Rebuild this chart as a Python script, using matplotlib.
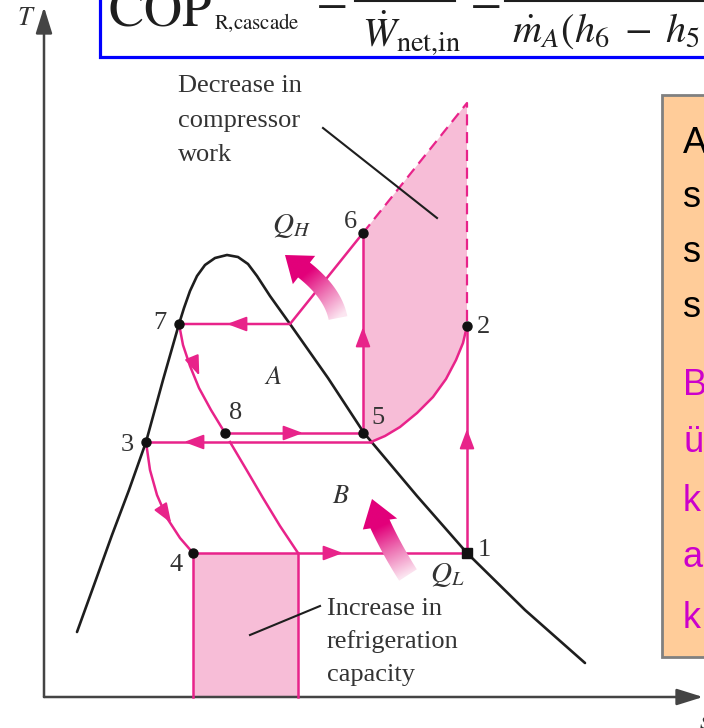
import numpy as np
import matplotlib.pyplot as plt
from matplotlib.patches import Polygon, Rectangle
from matplotlib.colors import LinearSegmentedColormap

plt.rcParams['mathtext.fontset'] = 'stix'
plt.rcParams['font.family'] = ['Liberation Serif', 'DejaVu Serif']

# --- T-s diagram values (s, T in diagram units, origin at the axes corner) ---
# saturation dome
dome_s = [33, 50, 68, 85, 102, 119, 135, 140, 146, 153, 161, 171, 183, 194, 204, 213,
          226, 246, 284, 320, 373, 423, 481, 541]
dome_T = [65, 112, 162, 207, 255, 317, 373, 389, 406, 421, 432, 439, 442, 440, 433, 421,
          401, 373, 319, 264, 201, 144, 87, 34]

# state points 1..8
state_names = ['1', '2', '3', '4', '5', '6', '7', '8']
state_s = [423, 423, 102, 149, 319, 319, 135, 181]
state_T = [144, 371, 255, 144, 264, 464, 373, 264]
name_s = [440, 439, 83, 132, 334, 306, 116, 192]
name_T = [147, 370, 252, 132, 279, 475, 374, 284]

# lower cycle B: 2 -> saturated vapour line (desuperheating curve)
curve_23_s = [423, 419, 412, 402, 389, 373, 356, 341, 327]
curve_23_T = [371, 354, 337, 318, 300, 284, 270, 261, 255]
# throttling 3 -> 4
curve_34_s = [102, 106, 113, 123, 136, 149]
curve_34_T = [255, 227, 202, 179, 159, 144]
# upper cycle A: throttling 7 -> 8
curve_78_s = [135, 139, 146, 155, 167, 181]
curve_78_T = [373, 352, 331, 309, 287, 264]
# single-stage throttling line (ends at right side of capacity gain)
curve_ext_s = [186, 202, 219, 236, 254]
curve_ext_T = [255, 228, 199, 171, 144]

knee_A = (246, 373)       # 6-7 line meets the dome
knee_B = (327, 255)       # 2-3 line meets the dome
single_stage_top = (423, 594)
gain_s = (149, 254)       # increase in refrigeration capacity

PINK = '#E8238A'
PINK_FILL = '#F7BDD7'
INK = '#1e1e1e'
TXT = '#333333'

fig = plt.figure(figsize=(7.04, 7.28), dpi=100)
ax = fig.add_axes([0, 0, 1, 1])
ax.axis('off')


def line_arrow(x, y, dx, dy):
    n = np.hypot(dx, dy)
    ax.annotate('', xy=(x + 6 * dx / n, y + 6 * dy / n), xytext=(x - 6 * dx / n, y - 6 * dy / n),
                arrowprops=dict(arrowstyle='-|>,head_length=0.8,head_width=0.3', color=PINK,
                                lw=1.4, shrinkA=0, shrinkB=0, mutation_scale=15), zorder=5)


def heat_arrow(base, ctrl, neck, tip, wb, wh):
    base, ctrl, neck, tip = map(np.asarray, (base, ctrl, neck, tip))
    t = np.linspace(0, 1, 40)[:, None]
    P = (1 - t) ** 2 * base + 2 * t * (1 - t) * ctrl + t ** 2 * neck
    dP = 2 * (1 - t) * (ctrl - base) + 2 * t * (neck - ctrl)
    nrm = np.column_stack([-dP[:, 1], dP[:, 0]])
    nrm /= np.linalg.norm(nrm, axis=1)[:, None]
    left, right = P + nrm * wb / 2, P - nrm * wb / 2
    d = (tip - neck) / np.linalg.norm(tip - neck)
    nh = np.array([-d[1], d[0]])
    verts = np.vstack([left, [neck + nh * wh / 2, tip, neck - nh * wh / 2], right[::-1]])
    poly = Polygon(verts, closed=True, fc='none', ec='none')
    ax.add_patch(poly)
    x0, y0 = verts.min(axis=0) - 2
    x1, y1 = verts.max(axis=0) + 2
    X, Y = np.meshgrid(np.linspace(x0, x1, 120), np.linspace(y0, y1, 120))
    u = tip - base
    proj = ((X - base[0]) * u[0] + (Y - base[1]) * u[1]) / (u @ u)
    cmap = LinearSegmentedColormap.from_list('heat', ['#FCE6F1', '#EE78B6', '#E2007A', '#E2007A'])
    im = ax.imshow(np.clip(proj, 0, 1), extent=[x0, x1, y0, y1], origin='lower', cmap=cmap,
                   vmin=0, vmax=1, aspect='auto', interpolation='bilinear', zorder=4)
    im.set_clip_path(poly)


# shaded areas
upper = list(zip([state_s[4], state_s[5], single_stage_top[0], state_s[1]],
                 [state_T[4], state_T[5], single_stage_top[1], state_T[1]])) + \
    list(zip(curve_23_s, curve_23_T))
ax.add_patch(Polygon(upper, closed=True, fc=PINK_FILL, ec='none', zorder=1))
ax.add_patch(Rectangle((gain_s[0], 0), gain_s[1] - gain_s[0], state_T[3], fc=PINK_FILL,
                       ec='none', zorder=1))

# dome
ax.plot(dome_s, dome_T, color=INK, lw=1.9, zorder=3, solid_capstyle='round',
        solid_joinstyle='round')

kw = dict(color=PINK, lw=1.8, zorder=4)
# cycle B
ax.plot([state_s[3], state_s[0]], [state_T[3], state_T[0]], **kw)
ax.plot([state_s[0], state_s[1]], [state_T[0], state_T[1]], **kw)
ax.plot(curve_23_s, curve_23_T, **kw)
ax.plot([knee_B[0], state_s[2]], [knee_B[1], state_T[2]], **kw)
ax.plot(curve_34_s, curve_34_T, **kw)
# cycle A
ax.plot([state_s[4], state_s[5]], [state_T[4], state_T[5]], **kw)
ax.plot([state_s[5], knee_A[0], state_s[6]], [state_T[5], knee_A[1], state_T[6]], **kw)
ax.plot(curve_78_s, curve_78_T, **kw)
ax.plot([state_s[7], state_s[4]], [state_T[7], state_T[4]], **kw)
# single stage comparison
ax.plot(curve_ext_s, curve_ext_T, **kw)
ax.plot([gain_s[0], gain_s[0]], [0, state_T[3]], **kw)
ax.plot([gain_s[1], gain_s[1]], [0, state_T[3]], **kw)
ax.plot([state_s[5], single_stage_top[0], single_stage_top[0]],
        [state_T[5], single_stage_top[1], state_T[1]], color=PINK, lw=1.6, ls=(0, (5, 3)), zorder=4)

# flow direction arrows
line_arrow(423, 262, 0, 1)
line_arrow(319, 364, 0, 1)
line_arrow(189, 373, -1, 0)
line_arrow(146, 255, -1, 0)
line_arrow(253, 264, 1, 0)
line_arrow(293, 144, 1, 0)
line_arrow(153, 327, 9, -22)
line_arrow(124, 179, 12, -19)

# heat flows
heat_arrow((294, 379), (289, 404), (260, 427), (241, 442), 19, 36)
heat_arrow((364, 122), (348, 147), (336, 173), (328, 198), 21, 36)

# state points
for i, nm in enumerate(state_names):
    ax.plot(state_s[i], state_T[i], 's' if nm == '1' else 'o', color='#111111',
            ms=6.5, zorder=6)
    ax.text(name_s[i], name_T[i], nm, fontsize=19, color=TXT, ha='center', va='center')

ax.text(229, 319, '$A$', fontsize=19, color=TXT, ha='center', va='center')
ax.text(297, 200, '$B$', fontsize=19, color=TXT, ha='center', va='center')
ax.text(228, 464, '$Q_H$', fontsize=21, color=TXT, ha='left', va='baseline')
ax.text(386, 115, '$Q_L$', fontsize=21, color=TXT, ha='left', va='baseline')

# annotations
for txt, T in zip(['Decrease in', 'compressor', 'work'], [605, 570, 536]):
    ax.text(134, T, txt, fontsize=19, color=TXT, va='baseline')
ax.plot([279, 393], [569, 479], color=INK, lw=1.5, zorder=5)
for txt, T in zip(['Increase in', 'refrigeration', 'capacity'], [82, 49, 16]):
    ax.text(283, T, txt, fontsize=19, color=TXT, va='baseline')
ax.plot([206, 276], [62, 91], color=INK, lw=1.5, zorder=5)

# axes of the diagram
axkw = dict(arrowstyle='-|>,head_length=0.8,head_width=0.25', color='#444444', lw=1.8,
            shrinkA=0, shrinkB=0, mutation_scale=20)
ax.annotate('', xy=(0, 690), xytext=(0, 0), arrowprops=axkw)
ax.annotate('', xy=(659, 0), xytext=(0, 0), arrowprops=axkw)
ax.text(-18, 678, '$T$', fontsize=19, color=TXT, ha='center', va='center')
ax.text(661, -25, '$s$', fontsize=18, color=TXT, ha='center', va='center')

# formula box (cropped at the top)
ax.add_patch(Rectangle((56, 640), 720, 120, fc='white', ec='#0000FF', lw=2.3, zorder=2))
ax.text(64, 671, r'$\mathrm{COP}$', fontsize=38, color=INK, va='baseline', zorder=3)
ax.text(170, 668, r'$\mathrm{R{,}cascade}$', fontsize=15, color=INK, va='baseline', zorder=3)
ax.text(284, 686, '$=$', fontsize=32, color=INK, ha='center', va='baseline', zorder=3)
ax.plot([311, 411], [696, 696], color=INK, lw=1.5, zorder=3)
ax.text(318, 650, r'$\dot{W}_{\mathrm{net{,}in}}$', fontsize=29, color=INK, va='baseline', zorder=3)
ax.text(438, 686, '$=$', fontsize=32, color=INK, ha='center', va='baseline', zorder=3)
ax.plot([461, 700], [696, 696], color=INK, lw=1.5, zorder=3)
ax.text(468, 655, r'$\dot{m}_A(h_6\;-\;h_5$', fontsize=29, color=INK, va='baseline', zorder=3)

# note box on the right (cropped)
ax.add_patch(Rectangle((618, 40), 120, 562, fc='#FFCC99', ec='#808080', lw=2, zorder=2))
for ch, T, c in zip(['A', 's', 's', 's', 'B', 'ü', 'k', 'a', 'k'],
                    [544, 490, 435, 380, 302, 245, 186, 130, 69],
                    ['black'] * 4 + ['#CC00CC'] * 5):
    ax.text(639, T, ch, fontsize=26, color=c, family='Liberation Sans', va='baseline', zorder=3)

ax.set_xlim(-44, 660)
ax.set_ylim(-31, 697)
fig.savefig('out.png', dpi=100)
